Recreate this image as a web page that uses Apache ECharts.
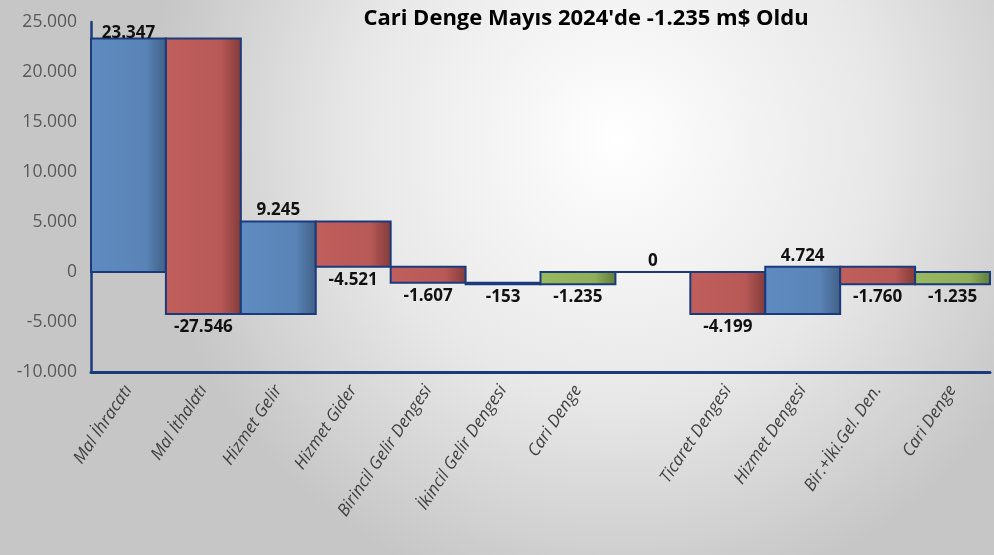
<!DOCTYPE html>
<html>
<head>
<meta charset="utf-8">
<script src="https://cdn.jsdelivr.net/npm/echarts@6/dist/echarts.min.js"></script>
<style>html,body{margin:0;padding:0;}#c{width:994px;height:555px;}</style>
</head>
<body>
<div id="c"></div>
<script>
const titleText = "Cari Denge Mayıs 2024'de -1.235 m$ Oldu";
const categories = ['Mal İhracatı','Mal İthalatı','Hizmet Gelir','Hizmet Gider','Birincil Gelir Dengesi','İkincil Gelir Dengesi','Cari Denge','','Ticaret Dengesi','Hizmet Dengesi','Bir.+İki.Gel. Den.','Cari Denge'];
const values = [23347, -27546, 9245, -4521, -1607, -153, -1235, 0, -4199, 4724, -1760, -1235];
// 'step' = running change, 'total' = bar from zero (resets running sum)
const kinds = ['step','step','step','step','step','step','total','total','step','step','step','total'];
const yTicks = [-10000, -5000, 0, 5000, 10000, 15000, 20000, 25000];

function fmt(v){
  const s = Math.abs(v).toString().replace(/\B(?=(\d{3})+(?!\d))/g, '.');
  return (v < 0 ? '-' : '') + s;
}

const barData = [];
let run = 0;
values.forEach((v, i) => {
  let lo, hi, col;
  if (kinds[i] === 'total') {
    lo = Math.min(0, v); hi = Math.max(0, v); run = 0; col = 'green';
  } else {
    const start = run, end = run + v;
    lo = Math.min(start, end); hi = Math.max(start, end); run = end;
    col = v >= 0 ? 'blue' : 'red';
  }
  barData.push([i, lo, hi, v, col]);
});

const palette = {
  blue:  ['#5f8bc0', '#5a84b8', '#405f85'],
  red:   ['#c05f5c', '#b95957', '#813b39'],
  green: ['#9aba5e', '#8fae58', '#5f7b3a']
};

function grad(c){
  return new echarts.graphic.LinearGradient(0,0,1,0,[
    {offset:0, color:c[0]},{offset:0.72, color:c[1]},{offset:1, color:c[2]}
  ]);
}

const chart = echarts.init(document.getElementById('c'));
chart.setOption({
  backgroundColor: {
    type:'radial', x:0.62, y:0.25, r:0.85,
    colorStops:[{offset:0,color:'#ffffff'},{offset:0.55,color:'#e8e8e8'},{offset:1,color:'#c6c6c6'}]
  },
  title: {
    text: titleText, left: 581, top: 3, textAlign:'center',
    textStyle: {fontFamily:'Open Sans', fontWeight:'bold', fontSize:22, color:'#000'}
  },
  grid: {left: 91, right: 4, top: 22, height: 350},
  xAxis: {
    type:'category', data: categories,
    axisLine:{show:true, onZero:false, lineStyle:{color:'#1b3a7c', width:3}},
    axisTick:{show:false},
    axisLabel:{interval:0, rotate:56, fontFamily:'Open Sans', fontStyle:'italic', fontSize:17, color:'#404040', margin:15}
  },
  yAxis: {
    type:'value', min: yTicks[0], max: yTicks[yTicks.length-1], interval: 5000,
    axisLine:{show:true, lineStyle:{color:'#1b3a7c', width:2.5}},
    axisTick:{show:false},
    splitLine:{show:false},
    axisLabel:{formatter: v => fmt(v), fontFamily:'Open Sans', fontSize:17.5, color:'#595959', margin:14}
  },
  series: [{
    type:'custom',
    data: barData,
    clip:false,
    renderItem: function(params, api){
      const i = api.value(0), lo = api.value(1), hi = api.value(2), v = api.value(3);
      const col = barData[params.dataIndex][4];
      const pTop = api.coord([i, hi]);
      const pBot = api.coord([i, lo]);
      const w = api.size([1, 0])[0];
      const x0 = pTop[0] - w/2;
      const labelY = v >= 0 ? pTop[1] - 11 : pBot[1] + 13;
      return {
        type:'group',
        children:[
          {type:'rect', shape:{x:x0, y:pTop[1], width:w, height:pBot[1]-pTop[1]},
           style:{fill: grad(palette[col]), stroke:'#1b3a7c', lineWidth:2}},
          {type:'text', x:pTop[0], y: Math.max(labelY, 33),
           style:{text: fmt(v), align:'center', verticalAlign:'middle', fontFamily:'Open Sans', fontWeight:'bold', fontSize:17, fill:'#111'}}
        ]
      };
    }
  }]
});
</script>
</body>
</html>
